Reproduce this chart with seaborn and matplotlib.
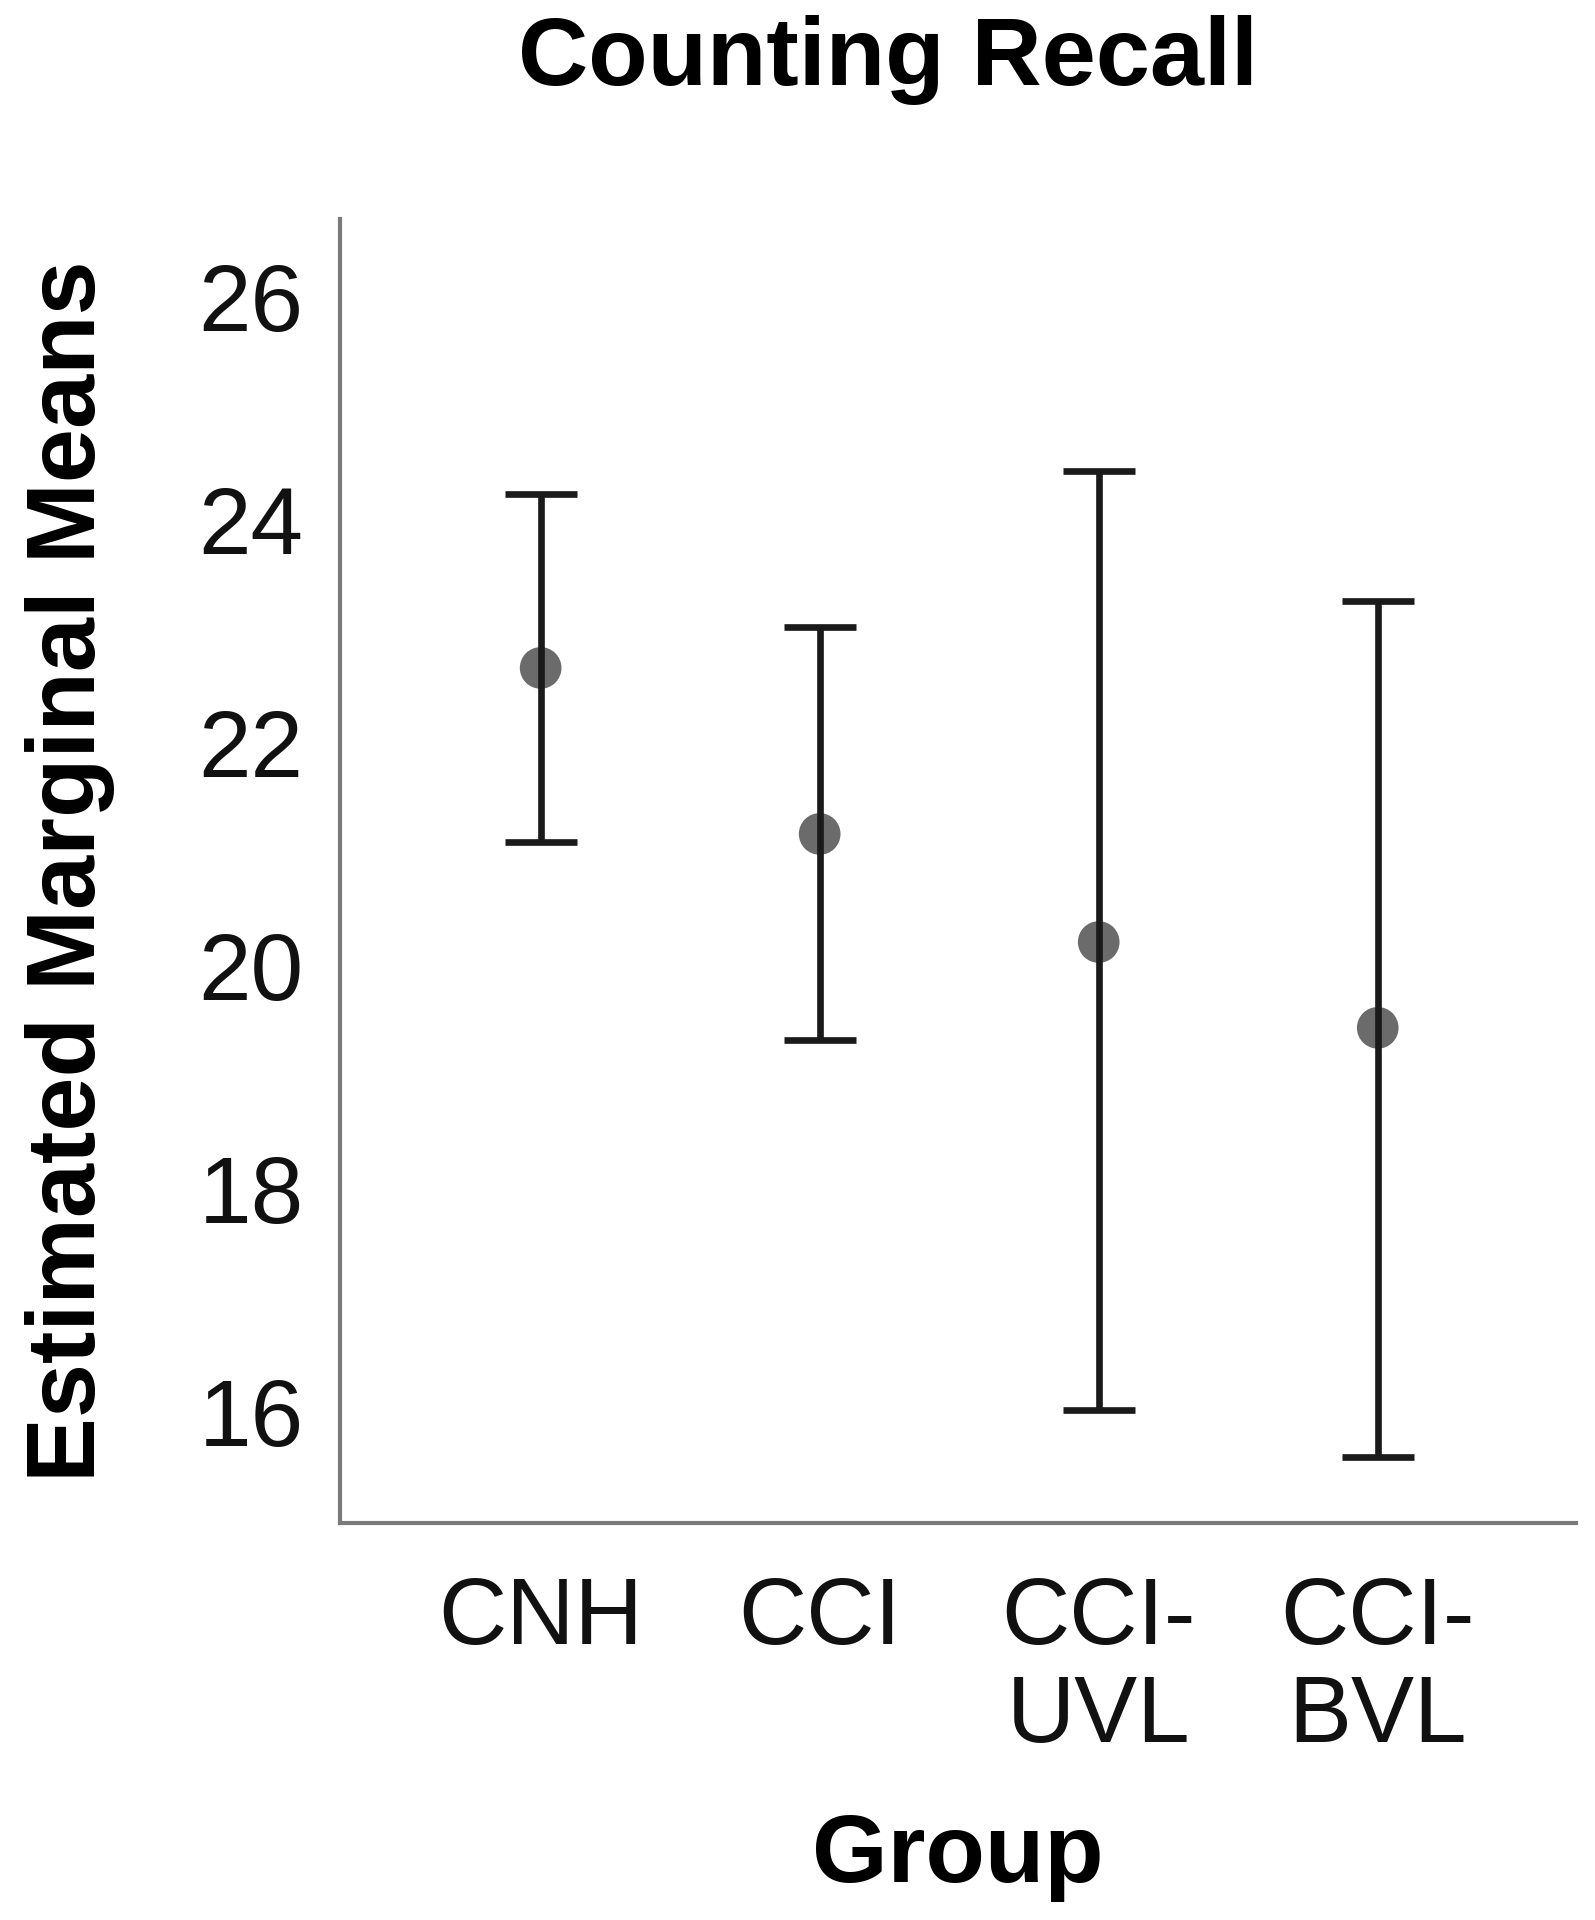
import numpy as np
import pandas as pd
import matplotlib
matplotlib.use("Agg")
import matplotlib.pyplot as plt
import seaborn as sns

# estimated marginal means with 95% CI
groups = ["CNH", "CCI", "CCI-\nUVL", "CCI-\nBVL"]
means = [22.67, 21.18, 20.21, 19.44]
ci_low = [21.11, 19.33, 16.01, 15.59]
ci_high = [24.23, 23.04, 24.44, 23.27]

df = pd.DataFrame({"Group": groups, "Mean": means, "Low": ci_low, "High": ci_high})

sns.set_style("white")
plt.rcParams["font.family"] = ["Liberation Sans", "DejaVu Sans"]

fig = plt.figure(figsize=(15.95, 19.2), dpi=100)
ax = fig.add_axes([0.213, 0.207, 0.775, 0.679])

xpos = np.arange(len(df))
ax.errorbar(xpos, df["Mean"],
            yerr=[df["Mean"] - df["Low"], df["High"] - df["Mean"]],
            fmt="none", ecolor="#1a1a1a", elinewidth=4.8,
            capsize=26, capthick=4.8, zorder=3)
sns.scatterplot(data=df, x="Group", y="Mean", ax=ax, s=900,
                color="#6b6b6b", edgecolor="none", zorder=2, legend=False)

ax.set_xlim(-0.72, 3.71)
ax.set_ylim(15, 26.7)
ax.set_yticks([16, 18, 20, 22, 24, 26])
ax.set_xticks(xpos)
ax.set_xticklabels(groups, va="top", linespacing=1.12)
ax.tick_params(axis="both", labelsize=68, length=0, colors="#111111")
ax.tick_params(axis="x", pad=38)
ax.tick_params(axis="y", pad=26)

for side in ["top", "right"]:
    ax.spines[side].set_visible(False)
for side in ["left", "bottom"]:
    ax.spines[side].set_color("#7a7a7a")
    ax.spines[side].set_linewidth(3)

ax.set_xlabel("Group", fontsize=70, fontweight="bold", labelpad=36, color="black")
ax.set_ylabel("Estimated Marginal Means", fontsize=70, fontweight="bold",
              labelpad=60, color="black")
fig.suptitle("Counting Recall", fontsize=70, fontweight="bold", x=0.557, y=0.969,
             va="center", color="black")

fig.savefig("out.png", dpi=100, facecolor="white")
